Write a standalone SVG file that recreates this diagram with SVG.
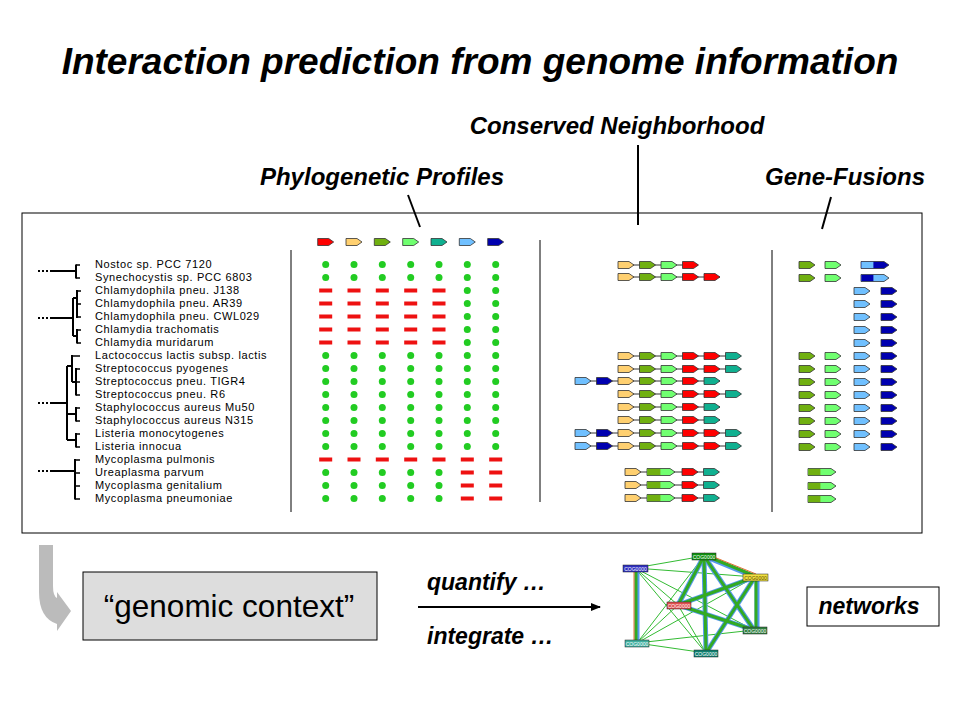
<svg xmlns="http://www.w3.org/2000/svg" xmlns:xlink="http://www.w3.org/1999/xlink" width="960" height="720" viewBox="0 0 960 720">
<style>
.t{font-family:"Liberation Sans",Arial,sans-serif;font-weight:bold;font-style:italic;fill:#000}
.sp{font-family:"Liberation Sans",Arial,sans-serif;font-size:11px;letter-spacing:0.6px;fill:#000}
.ln{stroke:#000;fill:none}
.dot{fill:#22CC22}
.dash{fill:#EE1111}
.g{stroke:#333;stroke-width:0.8}
.red{fill:#FF0000}.or{fill:#FFD070}.ol{fill:#70B010}.lg{fill:#70FF70}.te{fill:#10B090}.lb{fill:#70C0FF}.db{fill:#0000B0}
.cn{stroke:#333;stroke-width:1}
.thin{stroke:#33BB33;stroke-width:1}
.tkb{stroke:#5599EE;stroke-width:5}
.tkg{stroke:#33AA22;stroke-width:3}
.nl{font-family:"Liberation Sans",Arial,sans-serif;font-size:5px;text-anchor:middle}
</style>
<defs>
<path id="gene" d="M0,-3.5H11L16,0L11,3.5H0Z"/>
<path id="fuse" d="M0,-3.5H23L28,0L23,3.5H0Z"/>
<g id="rA" class="dot"><circle cx="325.7" r="3.5"/><circle cx="354" r="3.5"/><circle cx="382.3" r="3.5"/><circle cx="410.7" r="3.5"/><circle cx="439" r="3.5"/><circle cx="467.3" r="3.5"/><circle cx="495.7" r="3.5"/></g>
<g id="rB"><g class="dash"><rect x="319.2" y="-2" width="13" height="4"/><rect x="347.5" y="-2" width="13" height="4"/><rect x="375.8" y="-2" width="13" height="4"/><rect x="404.2" y="-2" width="13" height="4"/><rect x="432.5" y="-2" width="13" height="4"/></g><g class="dot"><circle cx="467.3" r="3.5"/><circle cx="495.7" r="3.5"/></g></g>
<g id="rC" class="dash"><rect x="319.2" y="-2" width="13" height="4"/><rect x="347.5" y="-2" width="13" height="4"/><rect x="375.8" y="-2" width="13" height="4"/><rect x="404.2" y="-2" width="13" height="4"/><rect x="432.5" y="-2" width="13" height="4"/><rect x="460.8" y="-2" width="13" height="4"/><rect x="489.2" y="-2" width="13" height="4"/></g>
<g id="rD"><g class="dot"><circle cx="325.7" r="3.5"/><circle cx="354" r="3.5"/><circle cx="382.3" r="3.5"/><circle cx="410.7" r="3.5"/><circle cx="439" r="3.5"/></g><g class="dash"><rect x="460.8" y="-2" width="13" height="4"/><rect x="489.2" y="-2" width="13" height="4"/></g></g>
<marker id="ah" markerWidth="10" markerHeight="10" refX="9" refY="5" orient="auto" markerUnits="userSpaceOnUse"><path d="M0,1L10,5L0,9Z" fill="#000"/></marker>
</defs>
<rect width="960" height="720" fill="#fff"/>

<g id="title"><text class="t" x="480" y="74" font-size="37" text-anchor="middle">Interaction prediction from genome information</text></g>
<g id="label-conserved"><text class="t" x="617" y="134" font-size="24" text-anchor="middle">Conserved Neighborhood</text></g>
<g id="label-phylo"><text class="t" x="382" y="185" font-size="24" text-anchor="middle">Phylogenetic Profiles</text></g>
<g id="label-fusion"><text class="t" x="845" y="185" font-size="24" text-anchor="middle">Gene-Fusions</text></g>

<g id="panel">
<rect x="22" y="213" width="900" height="320" fill="#fff" stroke="#000" stroke-width="1"/>
<line x1="291" y1="250" x2="291" y2="512" class="ln" stroke-width="1"/>
<line x1="540" y1="240" x2="540" y2="502" class="ln" stroke-width="1"/>
<line x1="772" y1="250" x2="772" y2="512" class="ln" stroke-width="1"/>
</g>

<g id="tree" class="ln">
<g stroke-width="2" stroke-dasharray="2,2"><line x1="38" y1="271" x2="50" y2="271"/><line x1="38" y1="318" x2="50" y2="318"/><line x1="38" y1="403" x2="50" y2="403"/><line x1="38" y1="471" x2="50" y2="471"/></g>
<g stroke-width="2">
<line x1="50" y1="271" x2="76" y2="271"/><line x1="76" y1="264.5" x2="76" y2="278.5"/>
<line x1="50" y1="318" x2="73" y2="318"/><line x1="73" y1="298" x2="73" y2="336"/><line x1="73" y1="298" x2="77" y2="298"/><line x1="77" y1="290" x2="77" y2="318"/><line x1="73" y1="336" x2="77" y2="336"/><line x1="77" y1="329" x2="77" y2="343.5"/>
<line x1="50" y1="403" x2="67" y2="403"/><line x1="67" y1="366" x2="67" y2="440"/><line x1="67" y1="366" x2="72" y2="366"/><line x1="72" y1="355" x2="72" y2="382"/><line x1="72" y1="382" x2="76" y2="382"/><line x1="76" y1="368" x2="76" y2="395.5"/>
<line x1="67" y1="414" x2="76" y2="414"/><line x1="76" y1="407" x2="76" y2="421.5"/>
<line x1="67" y1="440" x2="76" y2="440"/><line x1="76" y1="433" x2="76" y2="447.5"/>
<line x1="50" y1="471" x2="75" y2="471"/><line x1="75" y1="459" x2="75" y2="499.5"/>
</g>
<g stroke-width="1.5">
<path d="M76,265H80M76,278H80M77,291H81M77,304H81M77,317H81M77,330H81M77,343H81M72,356H80M76,369H80M76,382H80M76,395H80M76,408H80M76,421H80M76,434H80M76,447H80M75,460H80M75,473H80M75,486H80M75,499H80"/>
</g>
</g>

<g id="species" class="sp">
<text x="95" y="268">Nostoc sp. PCC 7120</text>
<text x="95" y="281">Synechocystis sp. PCC 6803</text>
<text x="95" y="294">Chlamydophila pneu. J138</text>
<text x="95" y="307">Chlamydophila pneu. AR39</text>
<text x="95" y="320">Chlamydophila pneu. CWL029</text>
<text x="95" y="333">Chlamydia trachomatis</text>
<text x="95" y="346">Chlamydia muridarum</text>
<text x="95" y="359">Lactococcus lactis subsp. lactis</text>
<text x="95" y="372">Streptococcus pyogenes</text>
<text x="95" y="385">Streptococcus pneu. TIGR4</text>
<text x="95" y="398">Streptococcus pneu. R6</text>
<text x="95" y="411">Staphylococcus aureus Mu50</text>
<text x="95" y="424">Staphylococcus aureus N315</text>
<text x="95" y="437">Listeria monocytogenes</text>
<text x="95" y="450">Listeria innocua</text>
<text x="95" y="463">Mycoplasma pulmonis</text>
<text x="95" y="476">Ureaplasma parvum</text>
<text x="95" y="489">Mycoplasma genitalium</text>
<text x="95" y="502">Mycoplasma pneumoniae</text>
</g>

<g id="phylo-header" class="g">
<use href="#gene" x="317.7" y="242" class="red"/>
<use href="#gene" x="346" y="242" class="or"/>
<use href="#gene" x="374.3" y="242" class="ol"/>
<use href="#gene" x="402.7" y="242" class="lg"/>
<use href="#gene" x="431" y="242" class="te"/>
<use href="#gene" x="459.3" y="242" class="lb"/>
<use href="#gene" x="487.7" y="242" class="db"/>
</g>
<g id="phylo-profiles">
<use href="#rA" y="264.5"/><use href="#rA" y="277.5"/>
<use href="#rB" y="290.5"/><use href="#rB" y="303.5"/><use href="#rB" y="316.5"/><use href="#rB" y="329.5"/><use href="#rB" y="342.5"/>
<use href="#rA" y="355.5"/><use href="#rA" y="368.5"/><use href="#rA" y="381.5"/><use href="#rA" y="394.5"/><use href="#rA" y="407.5"/><use href="#rA" y="420.5"/><use href="#rA" y="433.5"/><use href="#rA" y="446.5"/>
<use href="#rC" y="459.5"/>
<use href="#rD" y="472.5"/><use href="#rD" y="485.5"/><use href="#rD" y="498.5"/>
</g>

<g id="neighborhood">
<g class="cn">
<line x1="618" y1="265" x2="698" y2="265"/>
<line x1="618" y1="277" x2="720" y2="277"/>
<line x1="618" y1="356" x2="741" y2="356"/>
<line x1="618" y1="369" x2="741" y2="369"/>
<line x1="575" y1="381" x2="720" y2="381"/>
<line x1="618" y1="394" x2="741" y2="394"/>
<line x1="618" y1="407" x2="720" y2="407"/>
<line x1="618" y1="420" x2="720" y2="420"/>
<line x1="575" y1="433" x2="741" y2="433"/>
<line x1="575" y1="446" x2="741" y2="446"/>
<line x1="625" y1="472" x2="719" y2="472"/>
<line x1="625" y1="485" x2="719" y2="485"/>
<line x1="625" y1="498" x2="719" y2="498"/>
</g>
<g class="g">
<use href="#gene" x="618" y="265" class="or"/><use href="#gene" x="639.5" y="265" class="ol"/><use href="#gene" x="661" y="265" class="lg"/><use href="#gene" x="682.5" y="265" class="red"/>
<use href="#gene" x="618" y="277" class="or"/><use href="#gene" x="639.5" y="277" class="ol"/><use href="#gene" x="661" y="277" class="lg"/><use href="#gene" x="682.5" y="277" class="red"/><use href="#gene" x="704" y="277" class="red"/>
<use href="#gene" x="618" y="356" class="or"/><use href="#gene" x="639.5" y="356" class="ol"/><use href="#gene" x="661" y="356" class="lg"/><use href="#gene" x="682.5" y="356" class="red"/><use href="#gene" x="704" y="356" class="red"/><use href="#gene" x="725.5" y="356" class="te"/>
<use href="#gene" x="618" y="369" class="or"/><use href="#gene" x="639.5" y="369" class="ol"/><use href="#gene" x="661" y="369" class="lg"/><use href="#gene" x="682.5" y="369" class="red"/><use href="#gene" x="704" y="369" class="red"/><use href="#gene" x="725.5" y="369" class="te"/>
<use href="#gene" x="575" y="381" class="lb"/><use href="#gene" x="596.5" y="381" class="db"/><use href="#gene" x="618" y="381" class="or"/><use href="#gene" x="639.5" y="381" class="ol"/><use href="#gene" x="661" y="381" class="lg"/><use href="#gene" x="682.5" y="381" class="red"/><use href="#gene" x="704" y="381" class="te"/>
<use href="#gene" x="618" y="394" class="or"/><use href="#gene" x="639.5" y="394" class="ol"/><use href="#gene" x="661" y="394" class="lg"/><use href="#gene" x="682.5" y="394" class="red"/><use href="#gene" x="704" y="394" class="red"/><use href="#gene" x="725.5" y="394" class="te"/>
<use href="#gene" x="618" y="407" class="or"/><use href="#gene" x="639.5" y="407" class="ol"/><use href="#gene" x="661" y="407" class="lg"/><use href="#gene" x="682.5" y="407" class="red"/><use href="#gene" x="704" y="407" class="te"/>
<use href="#gene" x="618" y="420" class="or"/><use href="#gene" x="639.5" y="420" class="ol"/><use href="#gene" x="661" y="420" class="lg"/><use href="#gene" x="682.5" y="420" class="red"/><use href="#gene" x="704" y="420" class="te"/>
<use href="#gene" x="575" y="433" class="lb"/><use href="#gene" x="596.5" y="433" class="db"/><use href="#gene" x="618" y="433" class="or"/><use href="#gene" x="639.5" y="433" class="ol"/><use href="#gene" x="661" y="433" class="lg"/><use href="#gene" x="682.5" y="433" class="red"/><use href="#gene" x="704" y="433" class="red"/><use href="#gene" x="725.5" y="433" class="te"/>
<use href="#gene" x="575" y="446" class="lb"/><use href="#gene" x="596.5" y="446" class="db"/><use href="#gene" x="618" y="446" class="or"/><use href="#gene" x="639.5" y="446" class="ol"/><use href="#gene" x="661" y="446" class="lg"/><use href="#gene" x="682.5" y="446" class="red"/><use href="#gene" x="704" y="446" class="red"/><use href="#gene" x="725.5" y="446" class="te"/>
<use href="#gene" x="625" y="472" class="or"/><use href="#fuse" x="647" y="472" class="lg"/><rect x="647.4" y="468.9" width="13" height="6.2" class="ol" stroke="none"/><use href="#gene" x="682" y="472" class="red"/><use href="#gene" x="703.5" y="472" class="te"/>
<use href="#gene" x="625" y="485" class="or"/><use href="#fuse" x="647" y="485" class="lg"/><rect x="647.4" y="481.9" width="13" height="6.2" class="ol" stroke="none"/><use href="#gene" x="682" y="485" class="red"/><use href="#gene" x="703.5" y="485" class="te"/>
<use href="#gene" x="625" y="498" class="or"/><use href="#fuse" x="647" y="498" class="lg"/><rect x="647.4" y="494.9" width="13" height="6.2" class="ol" stroke="none"/><use href="#gene" x="682" y="498" class="red"/><use href="#gene" x="703.5" y="498" class="te"/>
</g>
</g>

<g id="fusions" class="g">
<use href="#gene" x="799" y="265" class="ol"/><use href="#gene" x="825" y="265" class="lg"/>
<use href="#gene" x="799" y="278" class="ol"/><use href="#gene" x="825" y="278" class="lg"/>
<use href="#fuse" x="861" y="265" class="db"/><rect x="861.4" y="261.9" width="12" height="6.2" class="lb" stroke="none"/>
<use href="#fuse" x="861" y="278" class="lb"/><rect x="861.4" y="274.9" width="12" height="6.2" class="db" stroke="none"/>
<use href="#gene" x="854" y="291" class="lb"/><use href="#gene" x="881" y="291" class="db"/>
<use href="#gene" x="854" y="304" class="lb"/><use href="#gene" x="881" y="304" class="db"/>
<use href="#gene" x="854" y="317" class="lb"/><use href="#gene" x="881" y="317" class="db"/>
<use href="#gene" x="854" y="330" class="lb"/><use href="#gene" x="881" y="330" class="db"/>
<use href="#gene" x="854" y="343" class="lb"/><use href="#gene" x="881" y="343" class="db"/>
<use href="#gene" x="799" y="356" class="ol"/><use href="#gene" x="825" y="356" class="lg"/><use href="#gene" x="854" y="356" class="lb"/><use href="#gene" x="881" y="356" class="db"/>
<use href="#gene" x="799" y="369" class="ol"/><use href="#gene" x="825" y="369" class="lg"/><use href="#gene" x="854" y="369" class="lb"/><use href="#gene" x="881" y="369" class="db"/>
<use href="#gene" x="799" y="382" class="ol"/><use href="#gene" x="825" y="382" class="lg"/><use href="#gene" x="854" y="382" class="lb"/><use href="#gene" x="881" y="382" class="db"/>
<use href="#gene" x="799" y="395" class="ol"/><use href="#gene" x="825" y="395" class="lg"/><use href="#gene" x="854" y="395" class="lb"/><use href="#gene" x="881" y="395" class="db"/>
<use href="#gene" x="799" y="408" class="ol"/><use href="#gene" x="825" y="408" class="lg"/><use href="#gene" x="854" y="408" class="lb"/><use href="#gene" x="881" y="408" class="db"/>
<use href="#gene" x="799" y="421" class="ol"/><use href="#gene" x="825" y="421" class="lg"/><use href="#gene" x="854" y="421" class="lb"/><use href="#gene" x="881" y="421" class="db"/>
<use href="#gene" x="799" y="434" class="ol"/><use href="#gene" x="825" y="434" class="lg"/><use href="#gene" x="854" y="434" class="lb"/><use href="#gene" x="881" y="434" class="db"/>
<use href="#gene" x="799" y="447" class="ol"/><use href="#gene" x="825" y="447" class="lg"/><use href="#gene" x="854" y="447" class="lb"/><use href="#gene" x="881" y="447" class="db"/>
<use href="#fuse" x="808" y="472" class="lg"/><rect x="808.4" y="468.9" width="12" height="6.2" class="ol" stroke="none"/>
<use href="#fuse" x="808" y="486" class="lg"/><rect x="808.4" y="482.9" width="12" height="6.2" class="ol" stroke="none"/>
<use href="#fuse" x="808" y="499" class="lg"/><rect x="808.4" y="495.9" width="12" height="6.2" class="ol" stroke="none"/>
</g>

<g id="bend-arrow"><path d="M39,545H53V586Q53,596 57,598V592L71,611L57,631V624Q39,618 39,592Z" fill="#BBBBBB"/></g>

<g id="genomic-context">
<rect x="83" y="572" width="294" height="68" fill="#DDDDDD" stroke="#000" stroke-width="1"/>
<text x="229" y="617" font-family="Liberation Sans,Arial,sans-serif" font-size="31.5" text-anchor="middle">“genomic context”</text>
</g>

<g id="networks-box">
<rect x="807" y="587" width="132" height="39" fill="#fff" stroke="#000" stroke-width="1"/>
<text class="t" x="869" y="614" font-size="23" text-anchor="middle">networks</text>
</g>

<g id="connectors">
<line x1="408" y1="195" x2="420" y2="227" class="ln" stroke-width="2"/>
<line x1="638" y1="145" x2="638" y2="225" class="ln" stroke-width="2"/>
<line x1="831" y1="197" x2="822" y2="229" class="ln" stroke-width="2"/>
<line x1="418" y1="607" x2="600" y2="607" class="ln" stroke-width="2" marker-end="url(#ah)"/>
<text class="t" x="427" y="590" font-size="23">quantify …</text>
<text class="t" x="427" y="644" font-size="23">integrate …</text>
</g>

<g id="network">
<g class="thin">
<line x1="635" y1="568" x2="704" y2="556"/>
<line x1="635" y1="568" x2="755" y2="577"/>
<line x1="635" y1="568" x2="678" y2="605"/>
<line x1="635" y1="568" x2="754" y2="630"/>
<line x1="635" y1="568" x2="706" y2="653"/>
<line x1="637" y1="643" x2="704" y2="556"/>
<line x1="637" y1="643" x2="678" y2="605"/>
<line x1="637" y1="643" x2="755" y2="577"/>
<line x1="637" y1="643" x2="754" y2="630"/>
<line x1="637" y1="643" x2="706" y2="653"/>
<line x1="678" y1="605" x2="706" y2="653"/>
</g>
<g class="tkb">
<line x1="637" y1="568" x2="637" y2="643"/>
<line x1="704" y1="556" x2="755" y2="577"/>
<line x1="704" y1="556" x2="706" y2="653"/>
<line x1="704" y1="556" x2="754" y2="630"/>
<line x1="704" y1="556" x2="678" y2="605"/>
<line x1="678" y1="605" x2="755" y2="577"/>
<line x1="678" y1="605" x2="754" y2="630"/>
<line x1="755" y1="577" x2="706" y2="653"/>
<line x1="757" y1="577" x2="757" y2="630"/>
</g>
<g class="tkg">
<line x1="636" y1="568" x2="636" y2="643"/>
<line x1="704" y1="555" x2="755" y2="576"/>
<line x1="704" y1="556" x2="706" y2="653"/>
<line x1="704" y1="556" x2="754" y2="630"/>
<line x1="704" y1="556" x2="678" y2="605"/>
<line x1="678" y1="605" x2="755" y2="577"/>
<line x1="678" y1="605" x2="754" y2="630"/>
<line x1="755" y1="577" x2="706" y2="653"/>
<line x1="756" y1="577" x2="756" y2="630"/>
</g>
<line x1="634" y1="568" x2="634" y2="643" stroke="#E07030" stroke-width="1"/>
<line x1="704" y1="553" x2="756" y2="574" stroke="#E07030" stroke-width="1"/>
</g>
<g id="node-b"><rect x="623" y="565" width="25" height="7" fill="#3030C0" stroke="#222" stroke-width="0.5"/><text class="nl" x="635.5" y="570.5" fill="#fff">COG0000</text></g>
<g id="node-g"><rect x="692" y="553" width="24" height="7" fill="#109010" stroke="#222" stroke-width="0.5"/><text class="nl" x="704" y="558.5" fill="#fff">COG0000</text></g>
<g id="node-y"><rect x="743" y="574" width="25" height="7" fill="#F0E040" stroke="#222" stroke-width="0.5"/><text class="nl" x="755.5" y="579.5" fill="#554400">COG0000</text></g>
<g id="node-r"><rect x="667" y="602" width="24" height="7" fill="#E05050" stroke="#222" stroke-width="0.5"/><text class="nl" x="679" y="607.5" fill="#fff">COG0000</text></g>
<g id="node-gr"><rect x="743" y="627" width="24" height="7" fill="#308040" stroke="#222" stroke-width="0.5"/><text class="nl" x="755" y="632.5" fill="#fff">COG0000</text></g>
<g id="node-tl"><rect x="625" y="640" width="24" height="7" fill="#40B0A0" stroke="#222" stroke-width="0.5"/><text class="nl" x="637" y="645.5" fill="#fff">COG0000</text></g>
<g id="node-tb"><rect x="694" y="650" width="24" height="7" fill="#108070" stroke="#222" stroke-width="0.5"/><text class="nl" x="706" y="655.5" fill="#fff">COG0000</text></g>
</svg>
